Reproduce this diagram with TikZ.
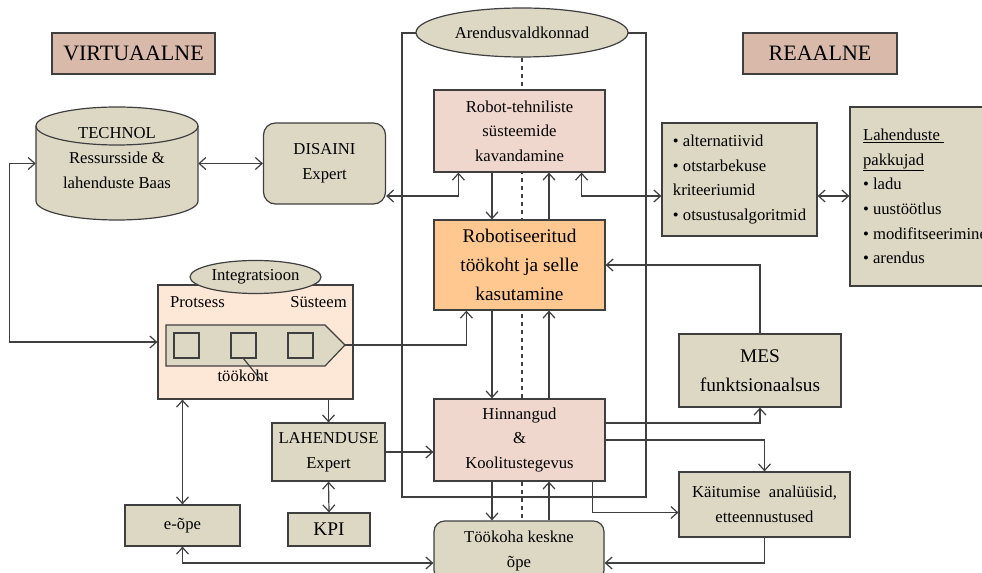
\documentclass[tikz,border=0pt]{standalone}
\usepackage{fontspec}
\setmainfont{Liberation Serif}
\usetikzlibrary{arrows.meta,calc,shapes.geometric,backgrounds}

\definecolor{linegray}{HTML}{3F3F3F}
\definecolor{tanfill}{HTML}{DDD8C4}
\definecolor{titlefill}{HTML}{D9B9A9}
\definecolor{pinkfill}{HTML}{F0D7CD}
\definecolor{orangefill}{HTML}{FFC891}
\definecolor{peachfill}{HTML}{FDE7D6}

\tikzset{
  basefont/.style={font=\fontsize{12.5}{18.5}\selectfont},
  bigfont/.style={font=\fontsize{14.5}{21.75}\selectfont},
  box/.style={draw=linegray, line width=0.9pt, fill=tanfill, align=center, inner sep=2pt, basefont},
  titlebox/.style={box, fill=titlefill, font=\fontsize{16.5}{20}\selectfont},
  roundbox/.style={box, rounded corners=9pt},
  oval/.style={box, ellipse, inner sep=0pt},
  oneway/.style={draw=linegray, line width=0.9pt, -{Straight Barb[length=5pt,width=9pt]}},
  twoway/.style={draw=linegray, line width=0.9pt, {Straight Barb[length=5pt,width=9pt]}-{Straight Barb[length=5pt,width=9pt]}},
}

\begin{document}
\begin{tikzpicture}[x=0.75pt,y=0.75pt,yscale=-1,xscale=1]
        \useasboundingbox (0,0) rectangle (982,573);

        %Shape: Frame
        \draw [draw=linegray, line width=0.9pt] (402,33) rectangle (646,497);

        %Shape: Cylinder
        \draw [draw=linegray, line width=0.9pt, fill=tanfill] (36,126) -- (36,201) arc [start angle=180, end angle=0, x radius=81, y radius=19] -- (198,126) arc [start angle=0, end angle=-180, x radius=81, y radius=19] -- cycle;
        \draw [draw=linegray, line width=0.9pt] (36,126) arc [start angle=180, end angle=0, x radius=81, y radius=19];
        \node [minimum width=121.5pt, minimum height=84.75pt, inner sep=0pt] (technol) at (117,163.5) {};
        \node [basefont, align=center, inner sep=0pt] (technoltext) at (117,158) {TECHNOL\\Ressursside \&\\lahenduste Baas};

        % Titles
        \node [titlebox, minimum width=122.25pt, minimum height=30.75pt] (virt) at (133.5,53.5) {VIRTUAALNE};
        \node [titlebox, minimum width=115.5pt, minimum height=30.75pt] (reaal) at (820,53.5) {REAALNE};

        % Left column
        \node [roundbox, minimum width=91.5pt, minimum height=60.75pt] (disaini) at (324.5,163.5) {DISAINI\\Expert};
        \node [box, fill=peachfill, minimum width=146.25pt, minimum height=85.5pt] (integ) at (255.5,342) {};
        \node [oval, minimum width=98.25pt, minimum height=24.75pt] (integoval) at (255.5,277) {Integratsioon};
        \node [basefont, inner sep=0pt] (protsess) at (197.5,302) {Protsess};
        \node [basefont, inner sep=0pt] (systeem) at (318.5,302) {Süsteem};
        %Shape: Line pentagon
        \draw [draw=linegray, line width=0.9pt, fill=tanfill] (166,325) -- (325,325) -- (345,345) -- (325,366) -- (166,366) -- cycle;
        \coordinate (liintip) at (345,345);
        \node [box, minimum size=18.75pt, inner sep=0pt] (sq1) at (186.5,345.5) {};
        \node [box, minimum size=18.75pt, inner sep=0pt] (sq2) at (243.5,345.5) {};
        \node [box, minimum size=18.75pt, inner sep=0pt] (sq3) at (300.5,345.5) {};
        \node [basefont, inner sep=0pt] (tookoht) at (243,376) {töökoht};
        \draw [draw=linegray, line width=0.9pt] (sq2.south) -- ++(17,21);
        \node [box, minimum width=84.75pt, minimum height=43.5pt] (lahend) at (328.5,452) {LAHENDUSE\\Expert};
        \node [box, bigfont, minimum width=61.5pt, minimum height=24.75pt] (kpi) at (329,529.5) {KPI};
        \node [box, minimum width=86.25pt, minimum height=30.75pt] (eope) at (182.5,525.5) {e-õpe};

        % Centre column
        \node [oval, minimum width=159pt, minimum height=36.75pt] (arend) at (522,32.5) {Arendusvaldkonnad};
        \node [box, fill=pinkfill, minimum width=128.25pt, minimum height=61.5pt] (robtech) at (519.5,131) {Robot-tehniliste\\süsteemide\\kavandamine};
        \node [box, bigfont, fill=orangefill, minimum width=128.25pt, minimum height=67.5pt] (robkoht) at (519.5,265) {Robotiseeritud\\töökoht ja selle\\kasutamine};
        \node [box, fill=pinkfill, minimum width=128.25pt, minimum height=61.5pt] (hinn) at (519.5,440) {Hinnangud\\\&\\Koolitustegevus};
        \node [roundbox, rounded corners=8pt, minimum width=127.5pt, minimum height=45pt] (tookoha) at (519,551) {Töökoha keskne\\õpe};

        % Right column
        \node [box, align=left, minimum width=116.25pt, minimum height=84.75pt] (alt) at (739.5,179.5) {• alternatiivid\\• otstarbekuse\\kriteeriumid\\• otsustusalgoritmid};
        \node [box, align=left, minimum width=112.5pt, minimum height=134.25pt] (lahpak) at (925,196.5) {\underline{Lahenduste~}\\\underline{pakkujad}\\• ladu\\• uustöötlus\\• modifitseerimine\\• arendus};
        \node [box, bigfont, minimum width=121.5pt, minimum height=54.75pt] (mes) at (760,370.5) {MES\\funktsionaalsus};
        \node [box, minimum width=128.25pt, minimum height=48.75pt] (kait) at (764.5,504.5) {Käitumise~~analüüsid,\\etteennustused};

        % Connectors
        \coordinate (midrow) at (0,196);
        \coordinate (botrow) at (0,563);
        \coordinate (dncol) at (492,0);
        \coordinate (upcol) at (549,0);

        \begin{scope}[on background layer]
        \draw [draw=linegray, line width=0.9pt, dash pattern={on 3.5pt off 2.5pt}] (arend.south) -- (arend.south |- tookoha.north);
        \end{scope}

        \draw [twoway] (technol.east) -- (disaini.west);
        \draw [twoway] (technol.west) -- ++(-26,0) |- (integ.west);
        \draw [twoway] (disaini.east |- midrow) -| ($(robtech.south west)+(25,0)$);
        \draw [twoway] ($(robtech.south east)+(-24,0)$) |- (alt.west |- midrow);
        \draw [twoway] (alt.east |- midrow) -- (lahpak.west |- midrow);
        \draw [oneway] (robtech.south -| dncol) -- (robkoht.north -| dncol);
        \draw [oneway] (robkoht.north -| upcol) -- (robtech.south -| upcol);
        \draw [oneway] (robkoht.south -| dncol) -- (hinn.north -| dncol);
        \draw [oneway] (hinn.north -| upcol) -- (robkoht.south -| upcol);
        \draw [oneway] (hinn.south -| dncol) -- (tookoha.north -| dncol);
        \draw [oneway] (tookoha.north -| upcol) -- (hinn.south -| upcol);
        \draw [oneway] (mes.north) |- (robkoht.east);
        \draw [oneway] ($(hinn.east)+(0,-17)$) -| (mes.south);
        \draw [oneway] (hinn.east) -| (kait.north);
        \draw [oneway] ($(hinn.south east)+(-13,0)$) |- ($(kait.west)+(0,8)$);
        \draw [oneway] (kait.south) |- (tookoha.east |- botrow);
        \draw [twoway] (eope.south) |- (tookoha.west |- botrow);
        \draw [oneway] (liintip) -| ($(robkoht.south west)+(33,0)$);
        \draw [oneway] (integ.south -| lahend.north) -- (lahend.north);
        \draw [twoway] (lahend.south) -- (kpi.north);
        \draw [oneway] (lahend.east) -- (hinn.west |- lahend.east);
        \draw [twoway] (integ.south -| eope.north) -- (eope.north);

\end{tikzpicture}
\end{document}
